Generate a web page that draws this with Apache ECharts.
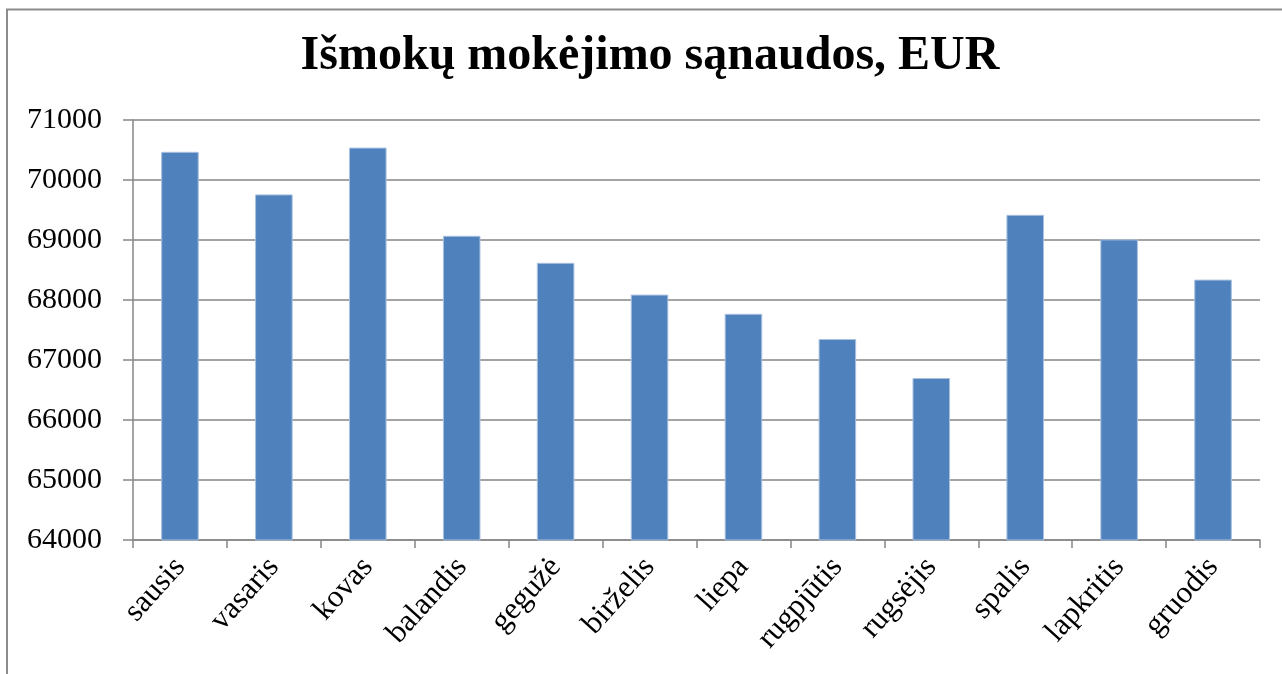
<!DOCTYPE html>
<html>
<head>
<meta charset="utf-8">
<script src="https://cdn.jsdelivr.net/npm/echarts@6/dist/echarts.min.js"></script>
<style>
html,body{margin:0;padding:0;background:#fff;}
#chart{width:1282px;height:674px;}
</style>
</head>
<body>
<div id="chart"></div>
<script>
const titleText = 'Išmokų mokėjimo sąnaudos, EUR';
const categories = ['sausis','vasaris','kovas','balandis','gegužė','birželis','liepa','rugpjūtis','rugsėjis','spalis','lapkritis','gruodis'];
const values = [70470, 69760, 70540, 69070, 68620, 68090, 67770, 67350, 66700, 69420, 69010, 68340];
const yMin = 64000;
const yMax = 71000;
const yStep = 1000;

const chart = echarts.init(document.getElementById('chart'));
const serif = 'Liberation Serif, Times New Roman, serif';
chart.setOption({
  animation: false,
  backgroundColor: '#ffffff',
  graphic: [{
    type: 'rect',
    shape: { x: 7, y: 9.5, width: 1400, height: 800 },
    style: { fill: 'none', stroke: '#8c8c8c', lineWidth: 2 },
    silent: true
  }],
  title: {
    text: titleText,
    left: 650,
    textAlign: 'center',
    top: 33,
    padding: 0,
    textStyle: { fontFamily: serif, fontWeight: 'bold', fontSize: 48, color: '#000' }
  },
  grid: { left: 133, right: 22, top: 120, bottom: 134, containLabel: false },
  xAxis: {
    type: 'category',
    data: categories,
    axisLine: { show: true, lineStyle: { color: '#868686', width: 1.5 } },
    axisTick: { show: true, alignWithLabel: false, length: 8, lineStyle: { color: '#868686', width: 1.5 } },
    axisLabel: { rotate: 48, margin: 22, interval: 0, fontFamily: serif, fontSize: 31, color: '#000' },
    splitLine: { show: false }
  },
  yAxis: {
    type: 'value',
    min: yMin,
    max: yMax,
    interval: yStep,
    axisLine: { show: true, lineStyle: { color: '#868686', width: 1.5 } },
    axisTick: { show: true, length: 10, lineStyle: { color: '#868686', width: 1.5 } },
    axisLabel: { margin: 31, fontFamily: serif, fontSize: 30, color: '#000', formatter: v => String(v) },
    splitLine: { show: true, lineStyle: { color: '#868686', width: 1.5 } }
  },
  series: [{
    type: 'bar',
    data: values,
    barWidth: '40%',
    itemStyle: { color: '#4F81BD', borderColor: '#a9c1e0', borderWidth: 1 }
  }]
});
</script>
</body>
</html>
